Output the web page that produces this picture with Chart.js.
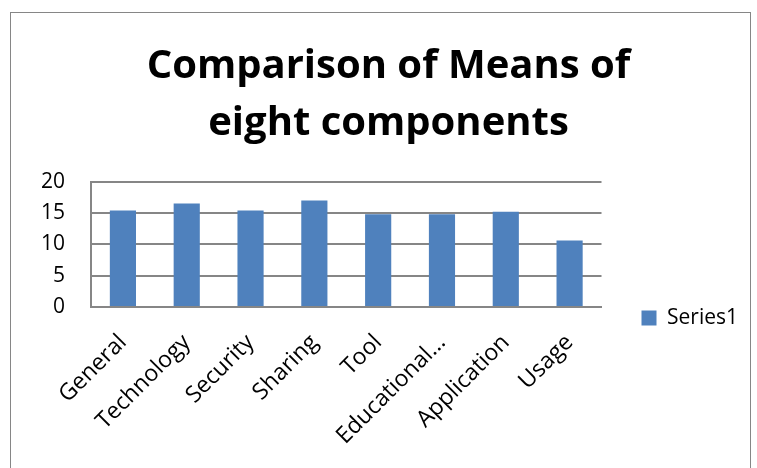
<!DOCTYPE html>
<html>
<head>
<meta charset="utf-8">
<script src="https://cdn.jsdelivr.net/npm/chart.js@4/dist/chart.umd.min.js"></script>
<style>
  html, body { margin: 0; padding: 0; background: #fff; }
  #wrap { position: relative; width: 757px; height: 468px; overflow: hidden; }
  #frame { position: absolute; left: 10px; top: 12px; width: 741px; height: 470px; border: 1px solid #868686; box-sizing: border-box; }
  canvas { position: absolute; left: 0; top: 0; }
</style>
</head>
<body>
<div id="wrap">
  <div id="frame"></div>
  <canvas id="Chart" width="757" height="468"></canvas>
</div>
<script>
 // means of the eight components
 const categories = ['General', 'Technology', 'Security', 'Sharing', 'Tool', 'Educational...', 'Application', 'Usage'];
 const series1 = [15.4, 16.5, 15.4, 17.0, 14.8, 14.8, 15.2, 10.6];
 const yTicks = [0, 5, 10, 15, 20];

 // nudge legend and title to where excel put them
 const nudge = {
   id: 'nudge',
   afterLayout(chart) {
     const lg = chart.legend;
     lg.top += 67; lg.bottom += 67;
     lg.left += 28; lg.right += 28;
     const t = chart.titleBlock;
     t.left += 21; t.right += 21;
   }
 };

 const ctx = document.getElementById('Chart').getContext('2d');
 const myChart = new Chart(ctx, {
   type: 'bar',
   data: {
     labels: categories,
     datasets: [{
       label: 'Series1',
       data: series1,
       backgroundColor: '#4f81bd',
       borderColor: '#4f81bd',
       barPercentage: 0.41,
       categoryPercentage: 1.0
     }]
   },
   plugins: [nudge],
   options: {
     responsive: false,
     animation: false,
     layout: { padding: { left: 15, right: 37, top: 38, bottom: 4 } },
     plugins: {
       title: {
         display: true,
         text: ['Comparison of Means of', 'eight components'],
         color: '#000',
         font: { family: 'Open Sans', size: 40, weight: 'bold', lineHeight: 1.42 },
         padding: { top: 0, bottom: 30 }
       },
       legend: {
         position: 'right',
         labels: {
           color: '#000',
           font: { family: 'Open Sans', size: 21 },
           boxWidth: 15,
           boxHeight: 15,
           padding: 12
         }
       },
       tooltip: { enabled: false }
     },
     scales: {
       x: {
         grid: { display: false },
         border: { color: '#868686', width: 2 },
         ticks: {
           color: '#000',
           font: { family: 'Open Sans', size: 23 },
           maxRotation: 45,
           minRotation: 45,
           padding: 14,
           autoSkip: false
         }
       },
       y: {
         min: 0,
         max: 20,
         afterBuildTicks: (axis) => { axis.ticks = yTicks.map(v => ({ value: v })); },
         grid: { color: '#868686', lineWidth: 2, drawTicks: false },
         border: { color: '#868686', width: 2 },
         ticks: {
           color: '#000',
           font: { family: 'Open Sans', size: 21 },
           padding: 26
         }
       }
     }
   }
 });
</script>
</body>
</html>
